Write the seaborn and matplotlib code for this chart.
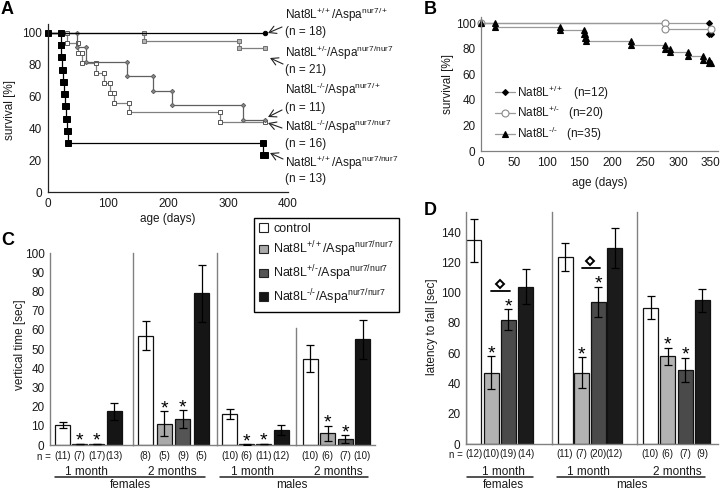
import numpy as np
import pandas as pd
import matplotlib
matplotlib.use("Agg")
import matplotlib.pyplot as plt
import matplotlib.transforms as mtransforms
from matplotlib.patches import Patch
from matplotlib.lines import Line2D
import seaborn as sns

sns.set_theme(style="white")
plt.rcParams['font.family'] = ['Liberation Sans', 'DejaVu Sans']
plt.rcParams['mathtext.fontset'] = 'custom'
plt.rcParams['mathtext.rm'] = 'Liberation Sans'
plt.rcParams['mathtext.it'] = 'Liberation Sans:italic'
plt.rcParams['mathtext.bf'] = 'Liberation Sans:bold'

# ---------------- data ----------------
# Panel A: Kaplan-Meier survival (event day, survival after event)
a_nat8l = ["+/+", "+/-", "-/-", "-/-", "+/+"]
a_aspa = ["nur7/+", "nur7/nur7", "nur7/+", "nur7/nur7", "nur7/nur7"]
a_n = [18, 21, 11, 16, 13]
a_days_1 = []
a_surv_1 = []
a_days_2 = [160, 318]
a_surv_2 = [95.2, 90.5]
a_days_3 = [49, 63, 131, 175, 206, 325]
a_surv_3 = [90.9, 81.8, 72.7, 63.6, 54.5, 45.5]
a_days_4 = [31, 50, 57, 80, 94, 103, 110, 135, 287]
a_surv_4 = [93.75, 87.5, 81.25, 75.0, 68.75, 62.5, 56.25, 50.0, 43.75]
a_days_5 = [21, 22, 24, 25, 26, 28, 30, 32, 34, 358]
a_surv_5 = [92.3, 84.6, 76.9, 69.2, 61.5, 53.8, 46.2, 38.5, 30.8, 23.1]
a_end_day = 362
a_xticks = [0, 100, 200, 300, 400]
a_yticks = [0, 20, 40, 60, 80, 100]

# Panel B
b_nat8l = ["+/+", "+/-", "-/-"]
b_n = [12, 20, 35]
b_days_wt = [348]
b_surv_wt = [91.7]
b_days_het = [281]
b_surv_het = [95.0]
b_days_ko = [22, 120, 157, 158, 160, 229, 281, 288, 316, 338, 348]
b_surv_ko = [97.1, 94.3, 91.4, 88.6, 85.7, 82.9, 80.0, 77.1, 74.3, 71.4, 68.6]
b_end_day = 351
b_xticks = [0, 50, 100, 150, 200, 250, 300, 350]
b_yticks = [0, 20, 40, 60, 80, 100]

# Panels C / D
bar_groups = ["control", "+/+", "+/-", "-/-"]
c_f1_mean = [10.5, 0.5, 0.5, 17.5]
c_f1_err = [1.5, 0.2, 0.2, 4.5]
c_f1_n = [11, 7, 17, 13]
c_f2_mean = [57.0, 11.0, 13.5, 79.0]
c_f2_err = [7.5, 6.5, 4.5, 15.0]
c_f2_n = [8, 5, 9, 5]
c_m1_mean = [16.0, 0.3, 0.5, 7.8]
c_m1_err = [2.5, 0.1, 0.2, 2.5]
c_m1_n = [10, 6, 11, 12]
c_m2_mean = [45.0, 6.0, 3.0, 55.0]
c_m2_err = [7.0, 4.0, 2.0, 10.0]
c_m2_n = [10, 6, 7, 10]
c_yticks = [0, 10, 20, 30, 40, 50, 60, 70, 80, 90, 100]

d_f1_mean = [134.5, 47.0, 82.0, 104.0]
d_f1_err = [14.3, 11.0, 7.0, 11.5]
d_f1_n = [12, 10, 19, 14]
d_m1_mean = [123.5, 47.0, 94.0, 129.5]
d_m1_err = [9.0, 10.3, 10.0, 13.0]
d_m1_n = [11, 7, 20, 12]
d_m2_mean = [90.0, 58.0, 49.0, 95.0]
d_m2_err = [7.5, 5.5, 8.0, 7.5]
d_m2_n = [10, 6, 7, 9]
d_yticks = [0, 20, 40, 60, 80, 100, 120, 140]

star_groups = [1, 2]          # significant vs control
diamond_pair = (1, 2)         # +/+ vs +/- comparison (1 month groups in D)

c_colors = ["#ffffff", "#a9a9a9", "#555555", "#151515"]
d_colors = ["#ffffff", "#b2b2b2", "#4a4a4a", "#1b1b1b"]

# ---------------- figure ----------------
W, H = 720, 490
fig = plt.figure(figsize=(W / 100, H / 100), dpi=100)
pxT = mtransforms.Affine2D().scale(1 / W, -1 / H).translate(0, 1) + fig.transFigure


def box(l, t, r, b):
    return [l / W, 1 - b / H, (r - l) / W, (b - t) / H]


def sup(s):
    s = s.replace("-", "\u2010")
    return r"$^{\mathregular{" + s + "}}$"


def gl(nat, aspa=None):
    s = "Nat8L" + sup(nat)
    if aspa is not None:
        s += "/Aspa" + sup(aspa)
    return s


def km_xy(days, surv, end):
    xs, ys, prev = [0], [100.0], 100.0
    for t, s in zip(days, surv):
        xs += [t, t]
        ys += [prev, s]
        prev = s
    xs.append(end)
    ys.append(prev)
    return xs, ys


FS = 8.5
NFS = 7.0
TXT = "#1a1a1a"
GRAY_SP = "#808080"

# ---------------- Panel A ----------------
axA = fig.add_axes(box(48, 24, 288, 192))
a_styles = [
    dict(color="black", marker="o", markersize=3.2, markerfacecolor="black", markeredgecolor="black"),
    dict(color="#7f7f7f", marker="s", markersize=3.0, markerfacecolor="#b5b5b5", markeredgecolor="#6f6f6f"),
    dict(color="#5f5f5f", marker="D", markersize=2.2, markerfacecolor="#8a8a8a", markeredgecolor="#5f5f5f"),
    dict(color="#808080", marker="s", markersize=3.4, markerfacecolor="white", markeredgecolor="#555555"),
    dict(color="black", marker="s", markersize=3.8, markerfacecolor="black", markeredgecolor="black"),
]
a_data = [(a_days_1, a_surv_1), (a_days_2, a_surv_2), (a_days_3, a_surv_3),
          (a_days_4, a_surv_4), (a_days_5, a_surv_5)]
for idx in [3, 2, 1, 4, 0]:
    xs, ys = km_xy(*a_data[idx], a_end_day)
    sns.lineplot(x=xs, y=ys, ax=axA, estimator=None, sort=False, lw=0.9,
                 markeredgewidth=0.7, clip_on=False, **a_styles[idx])
axA.set_xlim(0, 400)
axA.set_ylim(0, (192 - 24) / 1.59)
axA.set_xticks(a_xticks)
axA.set_yticks(a_yticks)
axA.tick_params(axis="x", direction="inout", length=4, width=0.8, labelsize=FS, pad=2, colors=TXT)
axA.tick_params(axis="y", direction="out", length=3, width=0.8, labelsize=FS, pad=1.5, colors=TXT)
for sp in ["top", "right"]:
    axA.spines[sp].set_visible(False)
for sp in ["left", "bottom"]:
    axA.spines[sp].set_color("#222222")
    axA.spines[sp].set_linewidth(0.9)
axA.set_xlabel("")
axA.set_ylabel("")
fig.text(168, 219, "age (days)", transform=pxT, ha="center", va="center", fontsize=FS, color=TXT)
fig.text(10, 110, "survival [%]", transform=pxT, ha="center", va="center", rotation=90, fontsize=FS, color=TXT)

a_label_base = [(19.3, 35.0), (57.3, 73.3), (94.3, 110.7), (130.7, 146.7), (166.7, 181.7)]
for i in range(5):
    y1, y2 = a_label_base[i]
    fig.text(285, y1, gl(a_nat8l[i], a_aspa[i]), transform=pxT, ha="left", va="baseline", fontsize=FS, color=TXT)
    fig.text(285, y2, f"(n = {a_n[i]})", transform=pxT, ha="left", va="baseline", fontsize=FS, color=TXT)
a_arrows = [((282, 27), (268, 33)), ((283, 64), (270, 58)), ((282, 110), (268, 117)),
            ((282, 128), (268, 123)), ((283, 159), (270, 153))]
for tail, head in a_arrows:
    axA.annotate("", xy=head, xycoords=pxT, xytext=tail, textcoords=pxT,
                 arrowprops=dict(arrowstyle="->,head_length=0.5,head_width=0.28", lw=0.8,
                                 color="#222222", shrinkA=0, shrinkB=0, mutation_scale=10))

# ---------------- Panel B ----------------
axB = fig.add_axes(box(481, 17, 718, 151))
b_styles = [
    dict(marker="D", markersize=3.0, markerfacecolor="black", markeredgecolor="black"),
    dict(marker="o", markersize=5.0, markerfacecolor="white", markeredgecolor="#8a8a8a"),
    dict(marker="^", markersize=5.0, markerfacecolor="black", markeredgecolor="black"),
]
b_data = [(b_days_wt, b_surv_wt), (b_days_het, b_surv_het), (b_days_ko, b_surv_ko)]
for i in range(3):
    xs, ys = km_xy(*b_data[i], b_end_day)
    lab = gl(b_nat8l[i]) + f"   (n={b_n[i]})"
    sns.lineplot(x=xs, y=ys, ax=axB, estimator=None, sort=False, lw=0.9, color="#9a9a9a",
                 markeredgewidth=0.8, clip_on=False, label=lab, **b_styles[i])
axB.set_xlim(0, 361)
axB.set_ylim(0, 104.7)
axB.set_xticks(b_xticks)
axB.set_yticks(b_yticks)
axB.tick_params(axis="both", direction="out", length=2.5, width=0.8, labelsize=FS, pad=1.5, colors=TXT)
axB.tick_params(axis="both", color=GRAY_SP)
for sp in ["top", "right"]:
    axB.spines[sp].set_visible(False)
for sp in ["left", "bottom"]:
    axB.spines[sp].set_color(GRAY_SP)
    axB.spines[sp].set_linewidth(0.9)
axB.set_xlabel("")
axB.set_ylabel("")
axB.legend(loc="center left", bbox_to_anchor=(495, 113), bbox_transform=pxT, frameon=False,
           fontsize=FS, handlelength=1.7, handletextpad=0.2, borderpad=0, borderaxespad=0,
           labelspacing=0.2, labelcolor=TXT)
fig.text(600, 183, "age (days)", transform=pxT, ha="center", va="center", fontsize=FS, color=TXT)
fig.text(448, 84, "survival [%]", transform=pxT, ha="center", va="center", rotation=90, fontsize=FS, color=TXT)


# ---------------- bar sub-panels ----------------
def bar_subpanel(left, right, first, step, bot, top, ymax, means, errs, ns, colors, yticks,
                 show_labels, spine_top=None, diamond=False, npad=5):
    ax = fig.add_axes(box(left, top, right, bot))
    df = pd.DataFrame({"group": bar_groups, "value": means})
    sns.barplot(data=df, x="group", y="value", hue="group", order=bar_groups, hue_order=bar_groups,
                palette=colors, legend=False, width=15 / step, edgecolor="#111111", linewidth=0.9,
                saturation=1, errorbar=None, ax=ax)
    pos = np.arange(len(means))
    ax.errorbar(pos, means, yerr=errs, fmt="none", ecolor="black", elinewidth=0.9,
                capsize=2.6, capthick=0.9, zorder=5)
    tops = np.array(means) + np.array(errs)
    for i in star_groups:
        ax.annotate("*", xy=(i, tops[i]), xytext=(0, -1.5), textcoords="offset points",
                    ha="center", va="baseline", fontsize=14, color="black")
    if diamond:
        i1, i2 = diamond_pair
        base = max(tops[i1], tops[i2])
        tr = mtransforms.offset_copy(ax.transData, fig=fig, y=13, units="points")
        ax.plot([i1, i2 + 0.1], [base, base], color="black", lw=1.3, transform=tr, clip_on=False)
        tr2 = mtransforms.offset_copy(ax.transData, fig=fig, y=18.5, units="points")
        ax.plot([(i1 + i2) / 2], [base], marker="D", ms=4.5, mfc="white", mec="black", mew=1.4,
                transform=tr2, clip_on=False)
    ax.set_xlim(-(first - left) / step, (right - first) / step)
    ax.set_ylim(0, ymax)
    ax.set_xticks(pos)
    ax.set_xticklabels([f"({n})" for n in ns], fontsize=NFS, color=TXT)
    ax.tick_params(axis="x", length=0, pad=npad)
    ax.set_yticks(yticks)
    ax.tick_params(axis="y", direction="out", length=2.5, width=0.8, color=GRAY_SP,
                   labelsize=FS, pad=1.5, labelcolor=TXT, labelleft=show_labels)
    for sp in ["top", "right"]:
        ax.spines[sp].set_visible(False)
    for sp in ["left", "bottom"]:
        ax.spines[sp].set_color(GRAY_SP)
        ax.spines[sp].set_linewidth(1.0)
    if spine_top is not None:
        ax.spines["left"].set_bounds(0, spine_top)
    ax.set_xlabel("")
    ax.set_ylabel("")
    ax.set_facecolor("none")
    return ax


# Panel C (0 at y=445, 100 at y=253)
cb, ct = 445, 253
bar_subpanel(50, 133, 62.5, 17.2, cb, ct, 100, c_f1_mean, c_f1_err, c_f1_n, c_colors, c_yticks, True, npad=4)
bar_subpanel(133, 217, 145.5, 18.7, cb, ct, 100, c_f2_mean, c_f2_err, c_f2_n, c_colors, c_yticks, False, npad=4)
bar_subpanel(217, 296, 229.5, 17.2, cb, ct, 100, c_m1_mean, c_m1_err, c_m1_n, c_colors, c_yticks, False, npad=4)
bar_subpanel(296, 375, 310.0, 17.5, cb, ct, 100, c_m2_mean, c_m2_err, c_m2_n, c_colors,
             [t for t in c_yticks if t <= 60], False, spine_top=61, npad=4)

# Panel D (0 at y=444, 1.514 px per unit)
db = 444
dmax = 153
dt = db - dmax * 1.514
bar_subpanel(466, 552, 473.8, 17.3, db, dt, dmax, d_f1_mean, d_f1_err, d_f1_n, d_colors, d_yticks, True,
             diamond=True, npad=3.5)
bar_subpanel(552, 637, 565.0, 16.5, db, dt, dmax, d_m1_mean, d_m1_err, d_m1_n, d_colors, d_yticks, False,
             diamond=True, npad=3.5)
bar_subpanel(637, 718, 650.5, 17.3, db, dt, dmax, d_m2_mean, d_m2_err, d_m2_n, d_colors, d_yticks, False,
             npad=3.5)

fig.text(20, 345, "vertical time [sec]", transform=pxT, ha="center", va="center", rotation=90,
         fontsize=FS, color=TXT)
fig.text(432, 327, "latency to fall [sec]", transform=pxT, ha="center", va="center", rotation=90,
         fontsize=FS, color=TXT)
fig.text(51, 457, "n =", transform=pxT, ha="right", va="center", fontsize=NFS, color=TXT)
fig.text(463, 455, "n =", transform=pxT, ha="right", va="center", fontsize=NFS, color=TXT)

group_texts = [("1 month", 86, 474.5), ("2 months", 172, 474.5), ("1 month", 252, 474.5),
               ("2 months", 338, 474.5), ("females", 130, 488), ("males", 292, 488),
               ("1 month", 503, 474.5), ("1 month", 588, 474.5), ("2 months", 677, 474.5),
               ("females", 503, 488), ("males", 632, 488)]
for s, x, y in group_texts:
    fig.text(x, y, s, transform=pxT, ha="center", va="baseline", fontsize=FS, color=TXT)
for x1, x2, y in [(55, 205, 477), (220, 368, 477), (467, 533, 476.5), (557, 705, 476.5)]:
    fig.add_artist(Line2D([x1, x2], [y, y], transform=pxT, color="#222222", lw=1.1))

# Legend for C
leg_handles = [Patch(facecolor=c_colors[0], edgecolor="#222222", lw=0.8, label="control")]
for i, g in enumerate(["+/+", "+/-", "-/-"]):
    leg_handles.append(Patch(facecolor=c_colors[i + 1], edgecolor="#222222", lw=0.8,
                             label=gl(g, "nur7/nur7")))
leg = fig.legend(handles=leg_handles, loc="upper left", bbox_to_anchor=(254, 218), bbox_transform=pxT,
                 frameon=True, fancybox=False, edgecolor="black", framealpha=1, fontsize=9,
                 handlelength=0.7, handleheight=0.7, handletextpad=0.45, borderaxespad=0,
                 borderpad=0.4, labelspacing=0.35, labelcolor=TXT)
leg.get_frame().set_linewidth(1.0)

# Panel letters
for s, x, y in [("A", 7, 10), ("B", 430, 9), ("C", 8, 240), ("D", 430, 210)]:
    fig.text(x, y, s, transform=pxT, ha="center", va="center", fontsize=13, fontweight="bold", color="black")

fig.savefig("out.png", dpi=100)
